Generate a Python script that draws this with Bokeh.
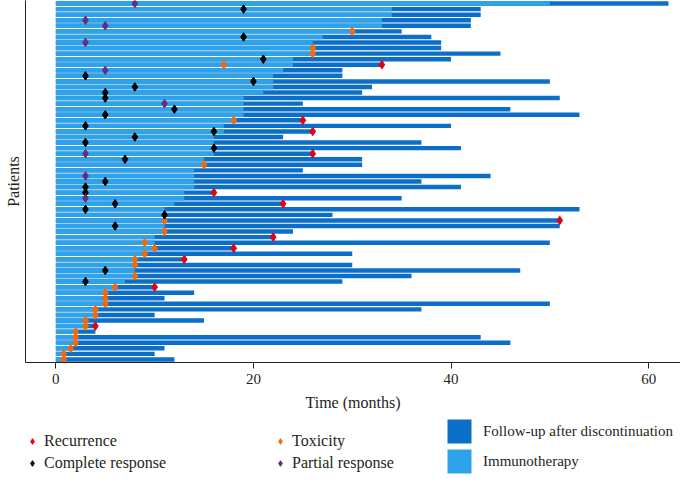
import numpy as np
from bokeh.plotting import figure
from bokeh.layouts import column
from bokeh.models import Range1d, FixedTicker, Legend, LegendItem, ColumnDataSource
from bokeh.embed import file_html
from bokeh.resources import INLINE

# ---------------- data ----------------
patients = list(range(1, 66))
immunotherapy = [50, 34, 34, 33, 33, 30, 27, 26, 26, 26,
                 24, 24, 23, 22, 22, 22, 21, 19, 19, 19,
                 19, 18, 17, 17, 16, 16, 16, 16, 15, 15,
                 14, 14, 14, 14, 13, 13, 12, 11, 11, 11,
                 11, 11, 10, 10, 10, 9, 8, 8, 8, 8,
                 7, 6, 5, 5, 5, 4, 4, 3, 3, 2,
                 2, 2, 1.5, 0.8, 0.8]
follow_up_end = [62, 43, 43, 42, 42, 35, 38, 39, 39, 45,
                 40, 33, 29, 29, 50, 32, 31, 51, 25, 46,
                 53, 25, 40, 26, 23, 37, 41, 26, 31, 31,
                 25, 44, 37, 41, 16, 35, 23, 53, 28, 51,
                 51, 24, 22, 50, 18, 30, 13, 30, 47, 36,
                 29, 10, 14, 11, 50, 37, 10, 15, 4, 4,
                 43, 46, 11, 10, 12]

recurrence_patient = [12, 22, 24, 28, 35, 37, 40, 43, 45, 47, 52, 59]
recurrence_time = [33, 25, 26, 26, 16, 23, 51, 22, 18, 13, 10, 4]

toxicity_patient = [6, 9, 10, 12, 22, 30, 40, 42, 44, 45, 46, 47, 48, 50,
                    52, 53, 54, 55, 56, 57, 58, 59, 60, 61, 62, 63, 64, 65]
toxicity_time = [30, 26, 26, 17, 18, 15, 11, 11, 9, 10, 9, 8, 8, 8,
                 6, 5, 5, 5, 4, 4, 3, 3, 2, 2, 2, 1.5, 0.8, 0.8]

complete_patient = [2, 7, 11, 14, 15, 16, 17, 18, 20, 21, 23, 24, 25, 26,
                    27, 29, 33, 34, 35, 37, 38, 39, 41, 49, 51]
complete_time = [19, 19, 21, 3, 20, 8, 5, 5, 12, 5, 3, 16, 8, 3,
                 16, 7, 5, 3, 3, 6, 3, 11, 6, 5, 3]

partial_patient = [1, 4, 5, 8, 13, 19, 28, 32, 36]
partial_time = [8, 3, 5, 3, 5, 11, 3, 3, 3]

x_ticks = [0, 20, 40, 60]

# ---------------- styling ----------------
LIGHT = "#2ea2ea"
DARK = "#0b6fca"
RED = "#e3000f"
ORANGE = "#f26a0c"
PURPLE = "#6a2c7a"
BLACK = "#000000"
FONT = "Liberation Serif"
INK = "#231f20"

p = figure(width=680, height=416, output_backend="svg", toolbar_location=None,
           x_range=Range1d(-3.07, 63.22), y_range=Range1d(65.55, 0.45),
           min_border_left=25, min_border_right=0, min_border_top=0,
           min_border_bottom=54)
p.outline_line_color = None
p.xgrid.visible = False
p.ygrid.visible = False

bars = ColumnDataSource(dict(patient=patients, imm=immunotherapy, end=follow_up_end))
p.hbar(y="patient", left=0, right="end", height=0.8, source=bars,
       fill_color=DARK, line_color=None)
p.hbar(y="patient", left=0, right="imm", height=0.8, source=bars,
       fill_color=LIGHT, line_color=None)

msize = 8.5
p.scatter(x=recurrence_time, y=recurrence_patient, marker="diamond",
          size=msize, fill_color=RED, line_color=RED, line_width=1)
p.scatter(x=toxicity_time, y=toxicity_patient, marker="diamond",
          size=msize, fill_color=ORANGE, line_color=ORANGE, line_width=1)
p.scatter(x=complete_time, y=complete_patient, marker="diamond",
          size=msize, fill_color=BLACK, line_color=BLACK, line_width=1)
p.scatter(x=partial_time, y=partial_patient, marker="diamond",
          size=msize, fill_color=PURPLE, line_color=PURPLE, line_width=1)

# axes
xa = p.xaxis[0]
xa.ticker = FixedTicker(ticks=x_ticks)
xa.minor_tick_line_color = None
xa.major_tick_in = 0
xa.major_tick_out = 6
xa.axis_line_color = INK
xa.major_tick_line_color = INK
xa.major_label_text_font = FONT
xa.major_label_text_font_size = "15px"
xa.major_label_text_color = INK
xa.axis_label = "Time (months)"
xa.axis_label_text_font = FONT
xa.axis_label_text_font_size = "16px"
xa.axis_label_text_font_style = "normal"
xa.axis_label_text_color = INK
xa.axis_label_standoff = 7

ya = p.yaxis[0]
ya.ticker = FixedTicker(ticks=[])
ya.minor_tick_line_color = None
ya.major_tick_line_color = None
ya.major_label_text_font_size = "0px"
ya.major_label_standoff = 0
ya.axis_line_color = INK
ya.axis_label = "Patients"
ya.axis_label_text_font = FONT
ya.axis_label_text_font_size = "16px"
ya.axis_label_text_font_style = "normal"
ya.axis_label_text_color = INK
ya.axis_label_standoff = 4

# ---------------- legend panel ----------------
# the key glyphs reuse the chart's data, which lies outside this panel's ranges
lg_fig = figure(width=680, height=60, output_backend="svg", toolbar_location=None,
                x_range=Range1d(-20, -10), y_range=Range1d(-20, -10),
                x_axis_type=None, y_axis_type=None,
                min_border_left=0, min_border_right=0, min_border_top=0,
                min_border_bottom=0)
lg_fig.outline_line_color = None
lg_fig.xgrid.visible = False
lg_fig.ygrid.visible = False

k_rec = lg_fig.scatter(x=recurrence_time, y=recurrence_patient, marker="diamond",
                       fill_color=RED, line_color=RED)
k_cr = lg_fig.scatter(x=complete_time, y=complete_patient, marker="diamond",
                      fill_color=BLACK, line_color=BLACK)
k_tox = lg_fig.scatter(x=toxicity_time, y=toxicity_patient, marker="diamond",
                       fill_color=ORANGE, line_color=ORANGE)
k_pr = lg_fig.scatter(x=partial_time, y=partial_patient, marker="diamond",
                      fill_color=PURPLE, line_color=PURPLE)
k_fu = lg_fig.hbar(y="patient", left=0, right="end", height=0.8,
                   source=ColumnDataSource(dict(patient=patients, end=follow_up_end)),
                   fill_color=DARK, line_color=None)
k_im = lg_fig.hbar(y="patient", left=0, right="imm", height=0.8,
                   source=ColumnDataSource(dict(patient=patients, imm=immunotherapy)),
                   fill_color=LIGHT, line_color=None)


def make_legend(items, loc, gw, gh, standoff, fs):
    return Legend(items=items, location=loc, orientation="vertical",
                  glyph_width=gw, glyph_height=gh, label_height=gh,
                  label_standoff=standoff, spacing=0, padding=0, margin=0,
                  border_line_color=None, background_fill_alpha=0,
                  label_text_font=FONT, label_text_font_size=fs,
                  label_text_color=INK)


lg_fig.add_layout(make_legend([LegendItem(label="Recurrence", renderers=[k_rec]),
                               LegendItem(label="Complete response", renderers=[k_cr])],
                              (0, 2), 14, 22, 5, "16px"))
lg_fig.add_layout(make_legend([LegendItem(label="Toxicity", renderers=[k_tox]),
                               LegendItem(label="Partial response", renderers=[k_pr])],
                              (248, 2), 14, 22, 5, "16px"))
lg_fig.add_layout(make_legend([LegendItem(label="Follow-up after discontinuation", renderers=[k_fu]),
                               LegendItem(label="Immunotherapy", renderers=[k_im])],
                              (419, 0), 30, 30, 9, "15px"))

layout = column(p, lg_fig, spacing=0)
open("out.html", "w").write(file_html(layout, INLINE))
